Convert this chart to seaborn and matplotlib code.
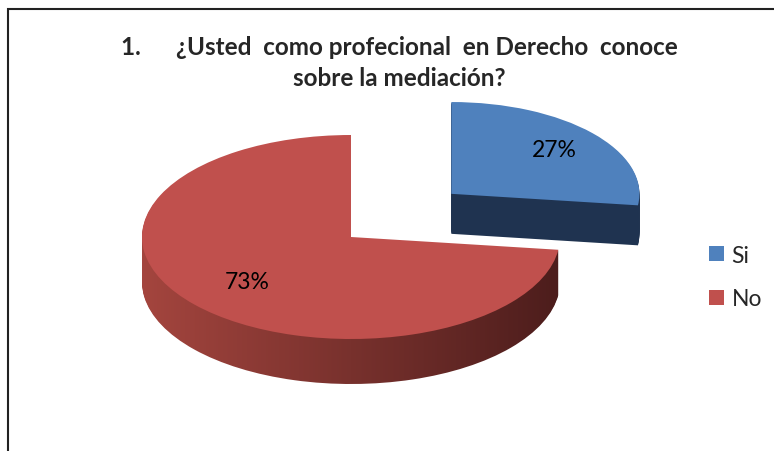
import numpy as np
import matplotlib.pyplot as plt
import seaborn as sns
from matplotlib.colors import LinearSegmentedColormap
from matplotlib.patches import Rectangle

# data
labels = ['Si', 'No']
values = [27, 73]
top_colors = ['#4f81bd', '#c0504d']
blue_side = '#1f3350'
explode = [0.64, 0]
title = "1.      ¿Usted  como profecional  en Derecho  conoce\nsobre la mediación?"

sns.set_theme(style='white')
plt.rcParams['font.family'] = ['Lato', 'DejaVu Sans']

W, H = 774, 452
fig = plt.figure(figsize=(W / 100, H / 100), dpi=100)
ax = fig.add_axes([0, 0, 1, 1])

# ellipse geometry of the pie (pixels)
cx, cy, a, b = 351, 238, 209, 102
depth_px = 45
blue_scale = 0.9

side_cmap = LinearSegmentedColormap.from_list('side', ['#a6463f', '#4a1c1b'])
grad = np.linspace(0, 1, 256).reshape(1, -1)

# stacked layers for the 3d side
z = 1
for k in range(depth_px, 0, -1):
    wedges, _ = ax.pie(values, colors=[blue_side, 'none'], startangle=90,
                       counterclock=False, explode=explode, center=(0, -k / b),
                       wedgeprops=dict(linewidth=0))
    wedges[0].set_radius(blue_scale)
    if k > 40:
        wedges[0].set_visible(False)
    for w in wedges:
        w.set_zorder(z)
    img = ax.imshow(grad, cmap=side_cmap, extent=(-1.05, 1.05, -2, 1.2),
                    aspect='auto', zorder=z + 0.5, interpolation='bilinear')
    img.set_clip_path(wedges[1])
    z += 1

# top face
wedges, texts, autotexts = ax.pie(values, colors=top_colors, startangle=90,
                                  counterclock=False, explode=explode,
                                  autopct='%1.0f%%', pctdistance=0.66,
                                  textprops=dict(fontsize=16.5, color='black'),
                                  wedgeprops=dict(linewidth=0))
wedges[0].set_radius(blue_scale)
for w in wedges:
    w.set_zorder(z)
for t in autotexts:
    t.set_zorder(z + 1)

ax.set_xlim(-cx / a, (W - cx) / a)
ax.set_ylim(-(H - cy) / b, cy / b)
ax.set_aspect('auto')
ax.axis('off')

fig.text(399 / W, 1 - 63 / H, title, ha='center', va='center',
         fontsize=17.5, fontweight='bold', linespacing=1.4)

fig.legend(wedges, labels, loc='center left', bbox_to_anchor=(688 / W, 1 - 278 / H),
           frameon=False, fontsize=16.5, handlelength=0.65, handleheight=0.65,
           handletextpad=0.35, labelspacing=1.0)

fig.add_artist(Rectangle((8 / W, -0.5), 2, 1 - 10 / H + 0.5, transform=fig.transFigure,
                         fill=False, edgecolor='#222222', linewidth=1.5, clip_on=False))

fig.savefig('out.png', dpi=100)
